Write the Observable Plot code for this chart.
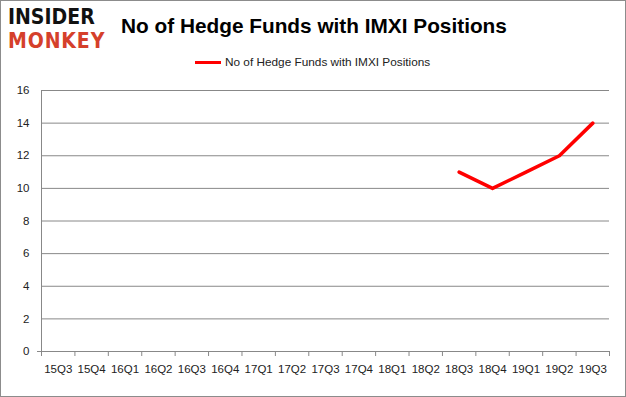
<!DOCTYPE html>
<html>
<head>
<meta charset="utf-8">
<script src="https://cdn.jsdelivr.net/npm/d3@7"></script>
<script src="https://cdn.jsdelivr.net/npm/@observablehq/plot@0.6"></script>
<style>
  body { margin: 0; background: #fff; }
  #wrap { position: relative; width: 624px; height: 395px; border: 1px solid #8c8c8c; overflow: hidden; font-family: "Liberation Sans", Arial, sans-serif; }
  #header { position: relative; height: 69px; }
  #logo1 { position: absolute; left: 7px; top: 5px; font: 900 22px/22px "DejaVu Sans", sans-serif; color: #111; transform: scaleX(0.86); transform-origin: left top; }
  #logo2 { position: absolute; left: 7px; top: 29px; font: 900 22px/22px "DejaVu Sans", sans-serif; color: #d5402b; letter-spacing: 1px; transform: scaleX(0.86); transform-origin: left top; }
  #title { position: absolute; left: 120px; top: 13px; font: bold 20.8px "Liberation Sans", Arial, sans-serif; color: #000; white-space: nowrap; }
  #legend { position: absolute; left: 194px; top: 54px; font: 11.8px "Liberation Sans", Arial, sans-serif; color: #222; white-space: nowrap; display: flex; align-items: center; }
  #legend .sw { display: inline-block; width: 26px; height: 3px; background: #ff0000; margin-right: 4px; }
  #chart svg { display: block; }
</style>
</head>
<body>
<div id="wrap">
  <div id="header">
    <div id="logo1">INSIDER</div>
    <div id="logo2">MONKEY</div>
    <div id="title">No of Hedge Funds with IMXI Positions</div>
    <div id="legend"><span class="sw"></span><span id="legendText"></span></div>
  </div>
  <div id="chart"></div>
</div>
<script>
const seriesName = "No of Hedge Funds with IMXI Positions";
const categories = ["15Q3","15Q4","16Q1","16Q2","16Q3","16Q4","17Q1","17Q2","17Q3","17Q4","18Q1","18Q2","18Q3","18Q4","19Q1","19Q2","19Q3"];
const values = [null,null,null,null,null,null,null,null,null,null,null,null,11,10,11,12,14];
const yTicks = [0,2,4,6,8,10,12,14,16];

document.getElementById("legendText").textContent = seriesName;

const data = categories.map((c, i) => ({i, c, v: values[i]})).filter(d => d.v != null);
const idx = categories.map((c, i) => i);
const bounds = d3.range(-0.5, categories.length, 1);

const chart = Plot.plot({
  width: 624,
  height: 326,
  marginTop: 20,
  marginBottom: 45,
  marginLeft: 40,
  marginRight: 16,
  style: { fontFamily: "Liberation Sans, Arial, sans-serif", fontSize: "11.5px", color: "#222", background: "#fff" },
  x: { type: "linear", domain: [-0.5, categories.length - 0.5], axis: null, label: null },
  y: { domain: [0, 16], axis: null, label: null },
  marks: [
    Plot.ruleY(yTicks, { stroke: "#888", strokeWidth: 1, strokeOpacity: 1 }),
    Plot.ruleX([-0.5], { stroke: "#888", strokeWidth: 1, strokeOpacity: 1 }),
    Plot.axisY(yTicks, { tickSize: 0, tickPadding: 12, tickFormat: d => d, fontSize: 11.5, label: null }),
    Plot.axisY([0], { tickSize: 4, tickFormat: () => "", stroke: "#888", label: null }),
    Plot.axisX(bounds, { tickSize: 5, tickFormat: () => "", stroke: "#888", anchor: "bottom", label: null }),
    Plot.axisX(idx, { tickSize: 0, tickPadding: 13, tickFormat: i => categories[i], anchor: "bottom", fontSize: 11.5, label: null }),
    Plot.line(data, { x: "i", y: "v", stroke: "#ff0000", strokeWidth: 3.5, strokeLinejoin: "round", strokeLinecap: "round" })
  ]
});
document.getElementById("chart").appendChild(chart);
</script>
</body>
</html>
